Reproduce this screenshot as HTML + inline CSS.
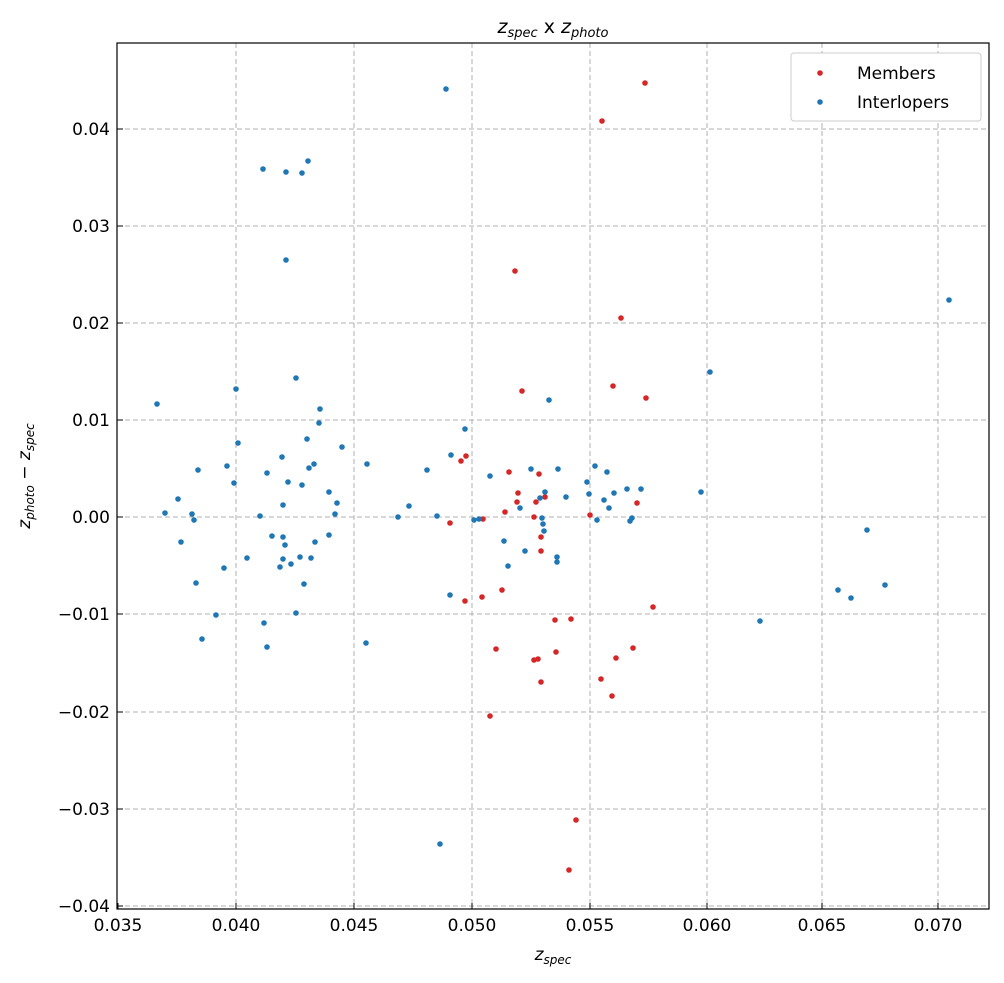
<!DOCTYPE html>
<html><head><meta charset="utf-8"><style>
body{margin:0;background:#fff;}
svg{display:block;font-family:"DejaVu Sans","Liberation Sans",sans-serif;}
</style></head><body>
<svg width="1004" height="983" viewBox="0 0 1004 983" xmlns="http://www.w3.org/2000/svg">
<rect width="1004" height="983" fill="#fff"/>
<g stroke="#b0b0b0" stroke-width="1" stroke-dasharray="5,3">
<line x1="236" y1="43" x2="236" y2="909"/><line x1="354" y1="43" x2="354" y2="909"/>
<line x1="472" y1="43" x2="472" y2="909"/><line x1="590" y1="43" x2="590" y2="909"/>
<line x1="707" y1="43" x2="707" y2="909"/><line x1="822" y1="43" x2="822" y2="909"/>
<line x1="938" y1="43" x2="938" y2="909"/>
<line x1="117" y1="129" x2="989" y2="129"/><line x1="117" y1="226" x2="989" y2="226"/>
<line x1="117" y1="323" x2="989" y2="323"/><line x1="117" y1="420" x2="989" y2="420"/>
<line x1="117" y1="517" x2="989" y2="517"/><line x1="117" y1="614" x2="989" y2="614"/>
<line x1="117" y1="712" x2="989" y2="712"/><line x1="117" y1="809" x2="989" y2="809"/>
<line x1="117" y1="906" x2="989" y2="906"/>
</g>
<g fill="#d62728">
<circle cx="645" cy="83" r="2.8"/><circle cx="602" cy="121" r="2.8"/><circle cx="515" cy="271" r="2.8"/><circle cx="621" cy="318" r="2.8"/><circle cx="522" cy="391" r="2.8"/><circle cx="613" cy="386" r="2.8"/><circle cx="646" cy="398" r="2.8"/><circle cx="466" cy="456" r="2.8"/><circle cx="461" cy="461" r="2.8"/><circle cx="509" cy="472" r="2.8"/><circle cx="539" cy="474" r="2.8"/><circle cx="536" cy="502" r="2.8"/><circle cx="517" cy="502" r="2.8"/><circle cx="518" cy="493" r="2.8"/><circle cx="505" cy="512" r="2.8"/><circle cx="545" cy="497" r="2.8"/><circle cx="637" cy="503" r="2.8"/><circle cx="590" cy="515" r="2.8"/><circle cx="534" cy="517" r="2.8"/><circle cx="450" cy="523" r="2.8"/><circle cx="483" cy="519" r="2.8"/><circle cx="541" cy="537" r="2.8"/><circle cx="541" cy="551" r="2.8"/><circle cx="502" cy="590" r="2.8"/><circle cx="465" cy="601" r="2.8"/><circle cx="482" cy="597" r="2.8"/><circle cx="653" cy="607" r="2.8"/><circle cx="555" cy="620" r="2.8"/><circle cx="571" cy="619" r="2.8"/><circle cx="496" cy="649" r="2.8"/><circle cx="534" cy="660" r="2.8"/><circle cx="556" cy="652" r="2.8"/><circle cx="538" cy="659" r="2.8"/><circle cx="633" cy="648" r="2.8"/><circle cx="616" cy="658" r="2.8"/><circle cx="541" cy="682" r="2.8"/><circle cx="601" cy="679" r="2.8"/><circle cx="612" cy="696" r="2.8"/><circle cx="490" cy="716" r="2.8"/><circle cx="576" cy="820" r="2.8"/><circle cx="569" cy="870" r="2.8"/>
</g>
<g fill="#1f77b4">
<circle cx="446" cy="89" r="2.8"/><circle cx="263" cy="169" r="2.8"/><circle cx="308" cy="161" r="2.8"/><circle cx="286" cy="172" r="2.8"/><circle cx="302" cy="173" r="2.8"/><circle cx="286" cy="260" r="2.8"/><circle cx="710" cy="372" r="2.8"/><circle cx="949" cy="300" r="2.8"/><circle cx="157" cy="404" r="2.8"/><circle cx="296" cy="378" r="2.8"/><circle cx="236" cy="389" r="2.8"/><circle cx="320" cy="409" r="2.8"/><circle cx="319" cy="423" r="2.8"/><circle cx="238" cy="443" r="2.8"/><circle cx="307" cy="439" r="2.8"/><circle cx="282" cy="457" r="2.8"/><circle cx="342" cy="447" r="2.8"/><circle cx="465" cy="429" r="2.8"/><circle cx="367" cy="464" r="2.8"/><circle cx="227" cy="466" r="2.8"/><circle cx="198" cy="470" r="2.8"/><circle cx="314" cy="464" r="2.8"/><circle cx="309" cy="468" r="2.8"/><circle cx="267" cy="473" r="2.8"/><circle cx="451" cy="455" r="2.8"/><circle cx="490" cy="476" r="2.8"/><circle cx="234" cy="483" r="2.8"/><circle cx="178" cy="499" r="2.8"/><circle cx="288" cy="482" r="2.8"/><circle cx="302" cy="485" r="2.8"/><circle cx="329" cy="492" r="2.8"/><circle cx="337" cy="503" r="2.8"/><circle cx="283" cy="505" r="2.8"/><circle cx="409" cy="506" r="2.8"/><circle cx="427" cy="470" r="2.8"/><circle cx="558" cy="469" r="2.8"/><circle cx="531" cy="469" r="2.8"/><circle cx="595" cy="466" r="2.8"/><circle cx="607" cy="472" r="2.8"/><circle cx="627" cy="489" r="2.8"/><circle cx="614" cy="493" r="2.8"/><circle cx="587" cy="482" r="2.8"/><circle cx="545" cy="492" r="2.8"/><circle cx="589" cy="494" r="2.8"/><circle cx="566" cy="497" r="2.8"/><circle cx="641" cy="489" r="2.8"/><circle cx="701" cy="492" r="2.8"/><circle cx="165" cy="513" r="2.8"/><circle cx="192" cy="514" r="2.8"/><circle cx="194" cy="520" r="2.8"/><circle cx="260" cy="516" r="2.8"/><circle cx="335" cy="514" r="2.8"/><circle cx="398" cy="517" r="2.8"/><circle cx="437" cy="516" r="2.8"/><circle cx="474" cy="520" r="2.8"/><circle cx="479" cy="519" r="2.8"/><circle cx="520" cy="508" r="2.8"/><circle cx="540" cy="498" r="2.8"/><circle cx="604" cy="500" r="2.8"/><circle cx="609" cy="508" r="2.8"/><circle cx="597" cy="520" r="2.8"/><circle cx="632" cy="518" r="2.8"/><circle cx="630" cy="521" r="2.8"/><circle cx="542" cy="518" r="2.8"/><circle cx="543" cy="524" r="2.8"/><circle cx="544" cy="531" r="2.8"/><circle cx="181" cy="542" r="2.8"/><circle cx="272" cy="536" r="2.8"/><circle cx="247" cy="558" r="2.8"/><circle cx="283" cy="537" r="2.8"/><circle cx="329" cy="535" r="2.8"/><circle cx="315" cy="542" r="2.8"/><circle cx="285" cy="545" r="2.8"/><circle cx="283" cy="559" r="2.8"/><circle cx="311" cy="558" r="2.8"/><circle cx="300" cy="557" r="2.8"/><circle cx="280" cy="567" r="2.8"/><circle cx="291" cy="564" r="2.8"/><circle cx="224" cy="568" r="2.8"/><circle cx="504" cy="541" r="2.8"/><circle cx="525" cy="551" r="2.8"/><circle cx="557" cy="557" r="2.8"/><circle cx="557" cy="562" r="2.8"/><circle cx="508" cy="566" r="2.8"/><circle cx="838" cy="590" r="2.8"/><circle cx="851" cy="598" r="2.8"/><circle cx="885" cy="585" r="2.8"/><circle cx="867" cy="530" r="2.8"/><circle cx="196" cy="583" r="2.8"/><circle cx="304" cy="584" r="2.8"/><circle cx="296" cy="613" r="2.8"/><circle cx="216" cy="615" r="2.8"/><circle cx="450" cy="595" r="2.8"/><circle cx="760" cy="621" r="2.8"/><circle cx="264" cy="623" r="2.8"/><circle cx="202" cy="639" r="2.8"/><circle cx="267" cy="647" r="2.8"/><circle cx="366" cy="643" r="2.8"/><circle cx="440" cy="844" r="2.8"/><circle cx="549" cy="400" r="2.8"/>
</g>
<rect x="117" y="43" width="872" height="866" fill="none" stroke="#000" stroke-width="1.2"/>
<g stroke="#000" stroke-width="1">
<line x1="118" y1="909" x2="118" y2="903"/><line x1="236" y1="909" x2="236" y2="903"/><line x1="354" y1="909" x2="354" y2="903"/><line x1="472" y1="909" x2="472" y2="903"/><line x1="590" y1="909" x2="590" y2="903"/><line x1="707" y1="909" x2="707" y2="903"/><line x1="822" y1="909" x2="822" y2="903"/><line x1="938" y1="909" x2="938" y2="903"/>
<line x1="117" y1="129" x2="123" y2="129"/><line x1="117" y1="226" x2="123" y2="226"/><line x1="117" y1="323" x2="123" y2="323"/><line x1="117" y1="420" x2="123" y2="420"/><line x1="117" y1="517" x2="123" y2="517"/><line x1="117" y1="614" x2="123" y2="614"/><line x1="117" y1="712" x2="123" y2="712"/><line x1="117" y1="809" x2="123" y2="809"/><line x1="117" y1="906" x2="123" y2="906"/>
</g>
<g font-size="17" fill="#000" text-anchor="middle">
<text x="118" y="931">0.035</text><text x="236" y="931">0.040</text><text x="354" y="931">0.045</text><text x="472" y="931">0.050</text><text x="590" y="931">0.055</text><text x="707" y="931">0.060</text><text x="822" y="931">0.065</text><text x="938" y="931">0.070</text>
</g>
<g font-size="17" fill="#000" text-anchor="end">
<text x="110" y="135">0.04</text><text x="110" y="232">0.03</text><text x="110" y="329">0.02</text><text x="110" y="426">0.01</text><text x="110" y="523">0.00</text><text x="110" y="620">−0.01</text><text x="110" y="718">−0.02</text><text x="110" y="815">−0.03</text><text x="110" y="912">−0.04</text>
</g>
<text x="553" y="960" font-size="17" text-anchor="middle"><tspan font-style="italic">z</tspan><tspan font-size="12" font-style="italic" dy="4">spec</tspan></text>
<text transform="translate(30,476) rotate(-90)" font-size="17" text-anchor="middle"><tspan font-style="italic">z</tspan><tspan font-size="12" font-style="italic" dy="4">photo</tspan><tspan dy="-4"> − </tspan><tspan font-style="italic">z</tspan><tspan font-size="12" font-style="italic" dy="4">spec</tspan></text>
<text x="553" y="33" font-size="19" text-anchor="middle"><tspan font-style="italic">z</tspan><tspan font-size="13" font-style="italic" dy="4">spec</tspan><tspan dy="-4"> x </tspan><tspan font-style="italic">z</tspan><tspan font-size="13" font-style="italic" dy="4">photo</tspan></text>
<rect x="791" y="53" width="190" height="68" rx="3" fill="#fff" stroke="#ccc" stroke-width="1"/>
<circle cx="820" cy="73" r="2.8" fill="#d62728"/><circle cx="820" cy="102" r="2.8" fill="#1f77b4"/>
<text x="857" y="79" font-size="17">Members</text><text x="857" y="108" font-size="17">Interlopers</text>
</svg>
</body></html>
